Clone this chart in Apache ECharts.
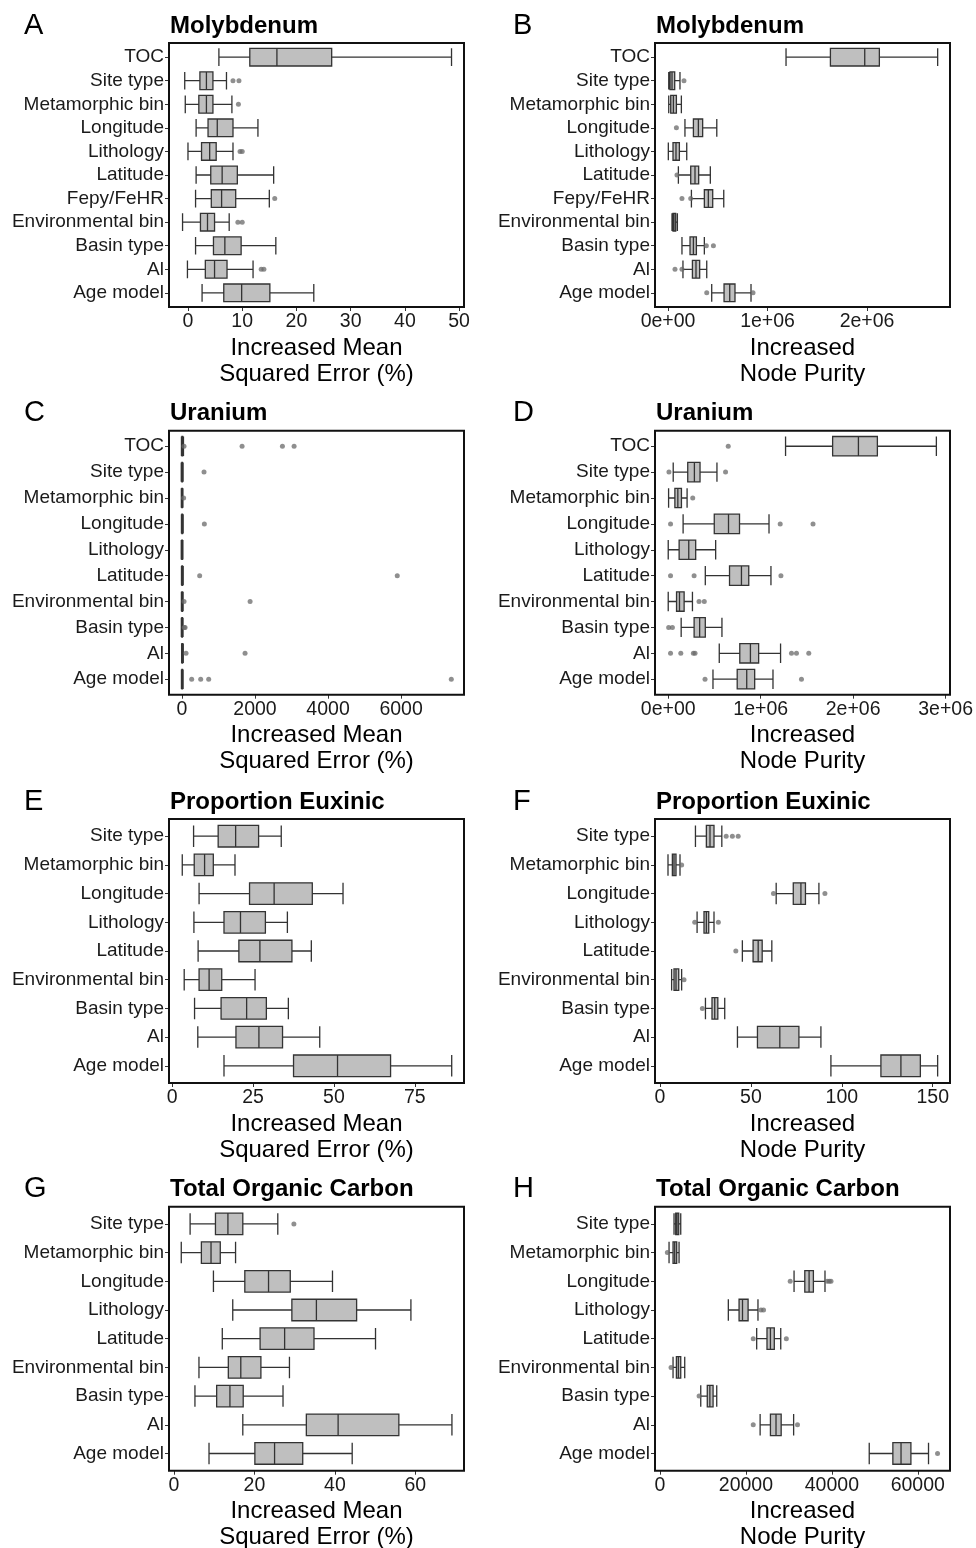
<!DOCTYPE html>
<html><head><meta charset="utf-8">
<script src="https://cdn.jsdelivr.net/npm/echarts@6/dist/echarts.min.js"></script>
<style>html,body{margin:0;padding:0;background:#fff}#chart{width:976px;height:1548px}</style>
</head><body><div id="chart"></div>
<script>
// ---------- categories ----------
const varsMo = ['TOC','Site type','Metamorphic bin','Longitude','Lithology','Latitude','Fepy/FeHR','Environmental bin','Basin type','Al','Age model'];
const varsU = ['TOC','Site type','Metamorphic bin','Longitude','Lithology','Latitude','Environmental bin','Basin type','Al','Age model'];
const varsEux = ['Site type','Metamorphic bin','Longitude','Lithology','Latitude','Environmental bin','Basin type','Al','Age model'];
const varsToc = ['Site type','Metamorphic bin','Longitude','Lithology','Latitude','Environmental bin','Basin type','Al','Age model'];

// ---------- boxes: [lower whisker, Q1, median, Q3, upper whisker] ----------
const moMseBox = [[5.7,11.4,16.4,26.5,48.6],[-0.6,2.2,3.4,4.6,7.1],[-0.5,2.0,3.4,4.6,8.1],[1.5,3.7,5.4,8.3,12.9],[0.0,2.5,4.0,5.2,8.3],[1.5,4.2,6.3,9.1,15.8],[1.4,4.3,6.2,8.8,15.0],[-1.0,2.3,3.6,4.9,7.6],[1.4,4.7,6.8,9.8,16.2],[-0.1,3.2,4.9,7.2,12.0],[2.6,6.6,9.9,15.1,23.2]];
const moMseOut = [['Site type',8.3],['Site type',9.4],['Metamorphic bin',9.3],['Lithology',9.6],['Lithology',10.0],['Fepy/FeHR',16.0],['Environmental bin',9.2],['Environmental bin',10.0],['Al',13.5],['Al',14.0]];

const moPurBox = [[1186000,1632000,1977000,2124000,2710000],[7000,20000,40000,67000,120000],[7000,27000,54000,84000,134000],[170000,255000,305000,348000,490000],[3000,50000,80000,114000,188000],[104000,228000,271000,308000,425000],[235000,365000,405000,449000,560000],[40000,50000,60000,77000,94000],[140000,221000,255000,285000,365000],[150000,245000,281000,318000,389000],[439000,563000,620000,673000,834000]];
const moPurOut = [['Site type',160000],['Longitude',84000],['Latitude',90000],['Fepy/FeHR',140000],['Fepy/FeHR',228000],['Basin type',385000],['Basin type',456000],['Al',70000],['Al',140000],['Age model',389000],['Age model',854000]];

const uMseBox = [[-15,0,8,18,40],[-20,-3,4,12,30],[-18,-4,3,10,25],[-15,-2,5,13,32],[-20,-5,2,9,24],[-14,-2,5,14,33],[-16,-3,4,12,30],[-18,-4,3,11,28],[-10,0,6,15,35],[-15,-2,5,13,30]];
const uMseOut = [['TOC',55],['TOC',1645],['TOC',2750],['TOC',3070],['Site type',603],['Metamorphic bin',45],['Longitude',612],['Latitude',484],['Latitude',5895],['Environmental bin',55],['Environmental bin',1865],['Basin type',60],['Basin type',85],['Al',110],['Al',1727],['Age model',265],['Age model',512],['Age model',731],['Age model',7375]];

const uPurBox = [[1269000,1778000,2057000,2262000,2900000],[54000,211000,283000,344000,527000],[4000,72000,104000,143000,204000],[161000,498000,652000,771000,1090000],[0,118000,222000,297000,513000],[401000,663000,792000,871000,1111000],[0,90000,122000,172000,262000],[140000,280000,340000,401000,581000],[552000,774000,889000,978000,1215000],[484000,746000,849000,935000,1133000]];
const uPurOut = [['TOC',649000],['Site type',8000],['Site type',620000],['Metamorphic bin',265000],['Longitude',25000],['Longitude',1211000],['Longitude',1566000],['Latitude',25000],['Latitude',280000],['Latitude',1219000],['Environmental bin',333000],['Environmental bin',390000],['Basin type',5000],['Basin type',45000],['Al',25000],['Al',136000],['Al',272000],['Al',290000],['Al',1333000],['Al',1387000],['Al',1520000],['Age model',398000],['Age model',1441000]];

const euxMseBox = [[6.6,14.2,19.6,26.7,33.7],[3.1,6.8,10.0,12.7,19.4],[8.3,23.9,31.5,43.3,52.8],[6.7,16.0,21.1,28.8,35.6],[8.0,20.6,27.1,37.0,43.0],[3.7,8.3,11.4,15.3,25.6],[6.9,15.1,23.0,29.1,35.9],[7.9,19.7,26.8,34.1,45.6],[16.0,37.5,51.1,67.5,86.4]];
const euxMseOut = [];

const euxPurBox = [[19.5,25.5,27.5,29.7,34.0],[4.4,6.8,7.7,8.8,11.0],[63.9,73.3,77.5,80.0,87.4],[20.4,24.2,25.5,26.8,29.7],[45.3,51.2,54.0,56.2,61.5],[6.4,7.7,8.8,10.3,11.9],[25.0,28.6,30.1,31.8,35.6],[42.6,53.6,65.9,76.4,88.5],[94.0,121.5,132.5,143.2,152.7]];
const euxPurOut = [['Site type',36.4],['Site type',39.8],['Site type',43.0],['Metamorphic bin',11.9],['Longitude',62.4],['Longitude',90.7],['Lithology',19.1],['Lithology',32.1],['Latitude',41.7],['Environmental bin',13.2],['Basin type',23.3]];

const tocMseBox = [[4.0,10.3,13.4,17.1,25.8],[1.8,6.8,9.2,11.5,15.3],[9.8,17.6,23.5,28.9,39.4],[14.6,29.3,35.4,45.4,58.9],[12.0,21.4,27.5,34.8,50.1],[6.2,13.5,16.6,21.6,28.7],[5.2,10.6,13.9,17.2,27.1],[17.1,32.9,40.8,55.9,69.1],[8.7,20.1,25.0,32.0,44.3]];
const tocMseOut = [['Site type',29.8]];

const tocPurBox = [[3260,3650,3960,4350,4820],[2100,3030,3420,3880,4430],[31200,33700,34700,35700,38400],[15900,18400,19200,20500,22800],[22500,24900,25700,26600,28100],[3030,3810,4270,4820,5750],[9480,11000,11600,12350,13200],[23300,25700,27000,28200,31100],[48700,54200,56100,58400,62500]];
const tocPurOut = [['Metamorphic bin',1710],['Longitude',30300],['Longitude',38900],['Longitude',39400],['Longitude',39800],['Lithology',23500],['Lithology',24100],['Latitude',21700],['Latitude',29400],['Environmental bin',2560],['Basin type',9100],['Al',21700],['Al',32000],['Age model',64600]];

// ---------- tick values / labels ----------
const ticksMoMse = [0,10,20,30,40,50];
const ticksMoPur = [0,1000000,2000000];
const labelsMoPur = ['0e+00','1e+06','2e+06'];
const ticksUMse = [0,2000,4000,6000];
const ticksUPur = [0,1000000,2000000,3000000];
const labelsUPur = ['0e+00','1e+06','2e+06','3e+06'];
const ticksEuxMse = [0,25,50,75];
const ticksEuxPur = [0,50,100,150];
const ticksTocMse = [0,20,40,60];
const ticksTocPur = [0,20000,40000,60000];

const titles = ['Molybdenum','Molybdenum','Uranium','Uranium','Proportion Euxinic','Proportion Euxinic','Total Organic Carbon','Total Organic Carbon'];
const letters = ['A','B','C','D','E','F','G','H'];
const mseName = 'Increased Mean\nSquared Error (%)';
const purName = 'Increased\nNode Purity';

// ---------- layout ----------
const FONT = '"Liberation Sans", Arial, Helvetica, sans-serif';
const colLeft = [169, 655];
const rowTop = [43, 430.7, 819, 1206.7];
const W = 295, H = 264;

const panels = [
  {vars: varsMo, box: moMseBox, out: moMseOut, ticks: ticksMoMse, labels: null, range: [-3.5, 50.9], name: mseName},
  {vars: varsMo, box: moPurBox, out: moPurOut, ticks: ticksMoPur, labels: labelsMoPur, range: [-131000, 2834000], name: purName},
  {vars: varsU, box: uMseBox, out: uMseOut, ticks: ticksUMse, labels: null, range: [-356, 7723], name: mseName},
  {vars: varsU, box: uPurBox, out: uPurOut, ticks: ticksUPur, labels: labelsUPur, range: [-143000, 3032000], name: purName},
  {vars: varsEux, box: euxMseBox, out: euxMseOut, ticks: ticksEuxMse, labels: null, range: [-1.0, 90.2], name: mseName},
  {vars: varsEux, box: euxPurBox, out: euxPurOut, ticks: ticksEuxPur, labels: null, range: [-2.75, 159.5], name: purName},
  {vars: varsToc, box: tocMseBox, out: tocMseOut, ticks: ticksTocMse, labels: null, range: [-1.25, 72.1], name: mseName},
  {vars: varsToc, box: tocPurBox, out: tocPurOut, ticks: ticksTocPur, labels: null, range: [-1170, 67500], name: purName}
];

const grid = [], xAxis = [], yAxis = [], series = [], graphic = [];
panels.forEach((p, i) => {
  const col = i % 2, row = Math.floor(i / 2);
  const left = colLeft[col], top = rowTop[row];
  const n = p.vars.length;
  const u = H / (n + 0.2);          // ggplot-like discrete expansion (0.6 per side)
  const inset = 0.1 * u;
  grid.push({left, top: top + inset, width: W, height: n * u, show: false, containLabel: false});
  xAxis.push({
    type: 'value', gridIndex: i, min: p.range[0], max: p.range[1], offset: inset,
    axisLine: {show: false, onZero: false}, splitLine: {show: false},
    axisTick: {show: true, length: 4, customValues: p.ticks, lineStyle: {color: '#333', width: 1}},
    axisLabel: {customValues: p.ticks, margin: 5, fontSize: 19.5, color: '#1a1a1a', fontFamily: FONT,
      formatter: v => { const k = p.ticks.indexOf(v); return p.labels && k >= 0 ? p.labels[k] : String(v); }}
  });
  yAxis.push({
    type: 'category', gridIndex: i, data: p.vars, inverse: true,
    axisLine: {show: false, onZero: false}, splitLine: {show: false},
    axisTick: {show: true, alignWithLabel: true, interval: 0, length: 4, lineStyle: {color: '#333', width: 1}},
    axisLabel: {interval: 0, hideOverlap: false, margin: 5, fontSize: 19, color: '#1a1a1a', fontFamily: FONT}
  });
  const bw = 0.75 * u;
  series.push({
    type: 'boxplot', xAxisIndex: i, yAxisIndex: i, layout: 'horizontal',
    data: p.box, boxWidth: [bw, bw],
    itemStyle: {color: '#bfbfbf', borderColor: '#333', borderWidth: 1.3},
    emphasis: {disabled: true}, silent: true
  });
  series.push({
    type: 'scatter', xAxisIndex: i, yAxisIndex: i, z: 5,
    data: p.out.map(d => [d[1], d[0]]), symbolSize: 5,
    itemStyle: {color: '#6a6a6a', opacity: 0.75}, silent: true
  });
  const cx = left + W / 2;
  graphic.push({type: 'rect', z: 100, silent: true,
    shape: {x: left, y: top, width: W, height: H},
    style: {fill: 'none', stroke: '#111', lineWidth: 2}});
  graphic.push({type: 'text', x: col === 0 ? 24 : 513, y: top - 17.5,
    style: {text: letters[i], font: '29px ' + FONT, fill: '#000', textVerticalAlign: 'middle'}});
  graphic.push({type: 'text', x: left + 1, y: top - 17,
    style: {text: titles[i], font: 'bold 24px ' + FONT, fill: '#000', textVerticalAlign: 'middle'}});
  graphic.push({type: 'text', x: cx, y: top + H + 54,
    style: {text: p.name, font: '24px ' + FONT, lineHeight: 26, fill: '#000', textAlign: 'center', textVerticalAlign: 'middle'}});
});

const chart = echarts.init(document.getElementById('chart'), null, {renderer: 'canvas'});
chart.setOption({animation: false, backgroundColor: '#fff', grid, xAxis, yAxis, series, graphic});
</script>
</body></html>
